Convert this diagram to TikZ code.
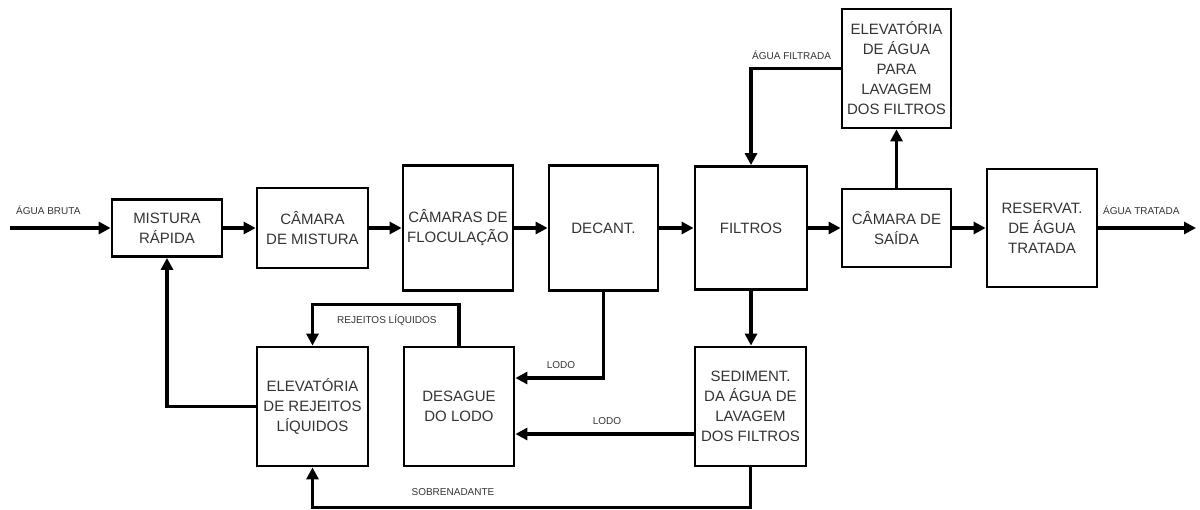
\documentclass[tikz,border=0pt]{standalone}
\usepackage{fontspec}
\setmainfont{Liberation Sans}
\usetikzlibrary{arrows.meta}
\begin{document}
\begin{tikzpicture}[x=1pt,y=-1pt,
  box/.style={draw=black,line width=2.8pt,rectangle,inner sep=0pt,align=center,
    text=black!80,font=\fontsize{15}{20}\selectfont},
  conn/.style={draw=black,line width=3.5pt,-{Triangle[length=12pt,width=12pt]}},
  lbl/.style={text=black!80,font=\fontsize{10}{12}\selectfont,inner sep=0pt}]
\useasboundingbox (0,0) rectangle (1200,509);
% main row
\node[box,minimum width=110pt,minimum height=57pt] (mr) at (167,228) {MISTURA\\RÁPIDA};
\node[box,minimum width=111pt,minimum height=80pt] (cm) at (312.5,228) {CÂMARA\\DE MISTURA};
\node[box,minimum width=110pt,minimum height=125pt] (cf) at (458,228) {CÂMARAS DE\\FLOCULAÇÃO};
\node[box,minimum width=109pt,minimum height=125pt] (dec) at (603.5,228) {DECANT.};
\node[box,minimum width=112pt,minimum height=123pt] (fil) at (751,228) {FILTROS};
\node[box,minimum width=109pt,minimum height=78pt] (cs) at (896.5,228) {CÂMARA DE\\SAÍDA};
\node[box,minimum width=110pt,minimum height=118pt] (res) at (1042,228) {RESERVAT.\\DE ÁGUA\\TRATADA};
% top
\node[box,minimum width=109pt,minimum height=119pt] (ela) at (896.5,68.5) {ELEVATÓRIA\\DE ÁGUA\\PARA\\LAVAGEM\\DOS FILTROS};
% bottom row
\node[box,minimum width=111pt,minimum height=119pt] (er) at (312.5,406.5) {ELEVATÓRIA\\DE REJEITOS\\LÍQUIDOS};
\node[box,minimum width=110pt,minimum height=119pt] (dl) at (459,406.5) {DESAGUE\\DO LODO};
\node[box,minimum width=111pt,minimum height=119pt] (sed) at (750.5,406.5) {SEDIMENT.\\DA ÁGUA DE\\LAVAGEM\\DOS FILTROS};
% free ends
\coordinate (in) at (10,228);
\coordinate (out) at (1196,228);
% main flow
\draw[conn] (in) -- (mr);
\draw[conn] (mr) -- (cm);
\draw[conn] (cm) -- (cf);
\draw[conn] (cf) -- (dec);
\draw[conn] (dec) -- (fil);
\draw[conn] (fil) -- (cs);
\draw[conn] (cs) -- (res);
\draw[conn] (res) -- (out);
% wash water
\draw[conn] (cs.north) -- (ela.south);
\draw[conn] (ela.west) -| (fil.north);
\draw[conn] (fil.south) -- (fil.south |- sed.north);
% sludge
\draw[conn] (dec.south) |- ([yshift=28.5pt]dl.east);
\draw[conn] ([yshift=-27.5pt]sed.west) -- ([yshift=-27.5pt]dl.east);
\draw[conn] (sed.south) -- ++(0,40) -| (er.south);
\draw[conn] (dl.north) -- ++(0,-41) -| (er.north);
\draw[conn] (er.west) -| (mr.south);
% labels
\node[lbl,anchor=west] (l1) at (16,210) {ÁGUA BRUTA};
\node[lbl,anchor=west] (l2) at (1103,210) {ÁGUA TRATADA};
\node[lbl,anchor=west] (l3) at (752,55) {ÁGUA FILTRADA};
\node[lbl,anchor=west] (l4) at (337,320) {REJEITOS LÍQUIDOS};
\node[lbl] (l5) at (561,365) {LODO};
\node[lbl] (l6) at (607,421) {LODO};
\node[lbl] (l7) at (453,492) {SOBRENADANTE};
\end{tikzpicture}
\end{document}
